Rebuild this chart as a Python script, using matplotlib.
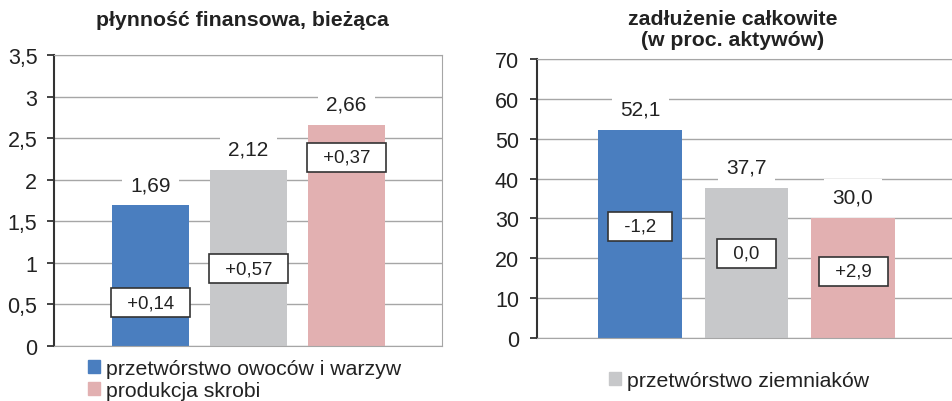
import matplotlib.pyplot as plt
from matplotlib.patches import Patch
from matplotlib.ticker import FuncFormatter

plt.rcParams['font.family'] = ['Liberation Sans', 'DejaVu Sans']

# data
groups = ["przetwórstwo owoców i warzyw", "przetwórstwo ziemniaków", "produkcja skrobi"]
colors = ["#4a7ebf", "#c7c8ca", "#e2b0b1"]

liquidity = [1.69, 2.12, 2.66]
liquidity_labels = ["1,69", "2,12", "2,66"]
liquidity_change = ["+0,14", "+0,57", "+0,37"]
liquidity_change_y = [0.52, 0.93, 2.27]

debt = [52.1, 37.7, 30.0]
debt_labels = ["52,1", "37,7", "30,0"]
debt_change = ["-1,2", "0,0", "+2,9"]
debt_change_y = [28.0, 21.3, 16.8]

fig = plt.figure(figsize=(9.53, 4.02), dpi=100)
ax1 = fig.add_axes([0.0567, 0.1368, 0.4071, 0.7239])
ax2 = fig.add_axes([0.5635, 0.1567, 0.4355, 0.694])

comma = FuncFormatter(lambda v, p: f"{v:g}".replace('.', ','))
ink = '#222222'


def draw(ax, vals, labels, changes, change_y, ymax, step, offset, xlim, tick_pad):
    x = range(len(vals))
    ax.bar(x, vals, width=0.785, color=colors, zorder=2)
    ax.set_ylim(0, ymax)
    ax.set_xlim(*xlim)
    ax.set_yticks([i * step for i in range(int(round(ymax / step)) + 1)])
    ax.yaxis.set_major_formatter(comma)
    ax.set_xticks([])
    ax.grid(axis='y', color='#a6a6a6', lw=1, zorder=0)
    ax.tick_params(axis='y', length=5, width=1.2, pad=tick_pad, labelsize=15.5,
                   colors=ink, direction='out')
    ax.spines['left'].set_color('#333333')
    ax.spines['left'].set_linewidth(1.5)
    for s in ['bottom', 'top', 'right']:
        ax.spines[s].set_color('#a6a6a6')
    for xi, v, lab, ch, cy in zip(x, vals, labels, changes, change_y):
        ax.text(xi, v + offset, lab, ha='center', va='center', fontsize=15,
                color=ink, zorder=3,
                bbox=dict(facecolor='white', edgecolor='none', pad=6))
        ax.text(xi, cy, "  " + ch + "  ", ha='center', va='center', fontsize=13.4,
                color=ink, zorder=4,
                bbox=dict(boxstyle='square,pad=0.32', facecolor='white',
                          edgecolor='#333333', lw=1.2))


draw(ax1, liquidity, liquidity_labels, liquidity_change, liquidity_change_y,
     3.5, 0.5, 0.25, (-0.985, 2.974), 7)
draw(ax2, debt, debt_labels, debt_change, debt_change_y,
     70, 10, 5.3, (-0.97, 2.93), 8)
ax2.spines['right'].set_visible(False)

fig.text(242 / 953, 1 - 20 / 402, "płynność finansowa, bieżąca", ha='center',
         va='center', fontsize=15.3, fontweight='bold', color=ink)
fig.text(733 / 953, 1 - 30 / 402, "zadłużenie całkowite\n(w proc. aktywów)",
         ha='center', va='center', fontsize=15.3, fontweight='bold', color=ink,
         linespacing=1.1)

leg_kw = dict(loc='upper left', frameon=False, fontsize=15.3, handlelength=0.55,
              handleheight=0.55, handletextpad=0.3, labelspacing=0.15,
              borderaxespad=0, borderpad=0, labelcolor=ink)
fig.legend(handles=[Patch(color=colors[0], label=groups[0]),
                    Patch(color=colors[2], label=groups[2])],
           bbox_to_anchor=(88 / 953, 1 - 360 / 402), **leg_kw)
fig.legend(handles=[Patch(color=colors[1], label=groups[1])],
           bbox_to_anchor=(609 / 953, 1 - 372 / 402), **leg_kw)

fig.savefig("out.png", dpi=100)
